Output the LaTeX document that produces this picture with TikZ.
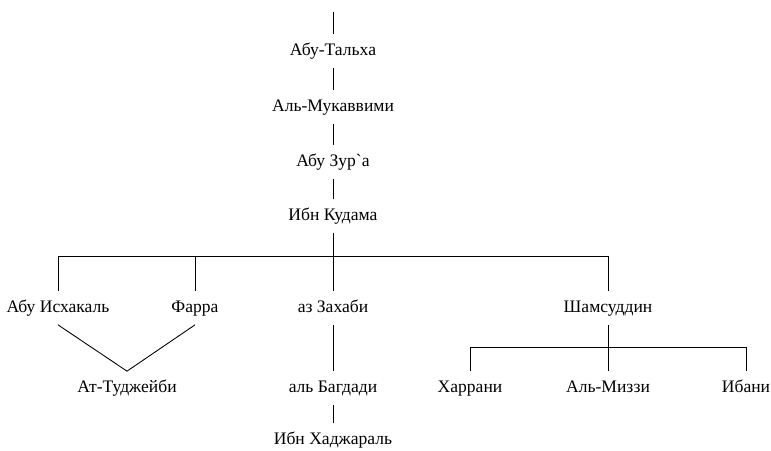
\documentclass[tikz,border=0pt]{standalone}
\usepackage{fontspec}
\setmainfont{Liberation Serif}
\usepackage{tikz}
\tikzset{%
    person/.style={%
        inner sep=0pt, minimum height=0.66cm, text height=1.55ex, text depth=0.45ex,
        font=\fontsize{10}{12}\selectfont
    },
    link/.style={line width=0.5pt}
}

\begin{document}
\begin{tikzpicture}[x=0.02cm,y=-0.02cm]
\useasboundingbox (0,0) rectangle (771,450);
% chain from the top
\coordinate (top) at (333,12);
\node[person] (talha)   at (333,51)  {Абу-Тальха};
\node[person] (mukav)   at (333,107) {Аль-Мукаввими};
\node[person] (zura)    at (333,162) {Абу Зур\textasciigrave а};
\node[person] (kudama)  at (333,216) {Ибн Кудама};
\draw[link] (top) -- (talha.north);
\draw[link] (talha.south) -- (mukav.north);
\draw[link] (mukav.south) -- (zura.north);
\draw[link] (zura.south) -- (kudama.north);
% students of Ibn Kudama
\node[person] (ishak)   at (58,308)  {Абу Исхакаль};
\node[person] (farra)   at (195,308) {Фарра};
\node[person] (zahabi)  at (333,308) {аз Захаби};
\node[person] (shams)   at (608,308) {Шамсуддин};
\coordinate (bar)  at (333,256);
\coordinate (barl) at (58,256);
\coordinate (barm) at (195,256);
\coordinate (barr) at (608,256);
\draw[link] (kudama.south) -- (bar);
\draw[link] (barl) -- (barr);
\draw[link] (barl) -- (ishak.north);
\draw[link] (barm) -- (farra.north);
\draw[link] (bar) -- (zahabi.north);
\draw[link] (barr) -- (shams.north);
% next row
\node[person] (tudj)    at (127,388) {Ат-Туджейби};
\node[person] (bagdad)  at (333,388) {аль Багдади};
\node[person] (hadj)    at (333,440) {Ибн Хаджараль};
\draw[link] (ishak.south) -- (tudj.north) -- (farra.south);
\draw[link] (zahabi.south) -- (bagdad.north);
\draw[link] (bagdad.south) -- (hadj.north);
% students of Shamsuddin
\node[person] (harran)  at (470,388) {Харрани};
\node[person] (mizzi)   at (608,388) {Аль-Миззи};
\node[person] (ibani)   at (746,388) {Ибани};
\coordinate (sbar)  at (608,347);
\coordinate (sbarl) at (470,347);
\coordinate (sbarr) at (746,347);
\draw[link] (shams.south) -- (sbar);
\draw[link] (sbarl) -- (sbarr);
\draw[link] (sbarl) -- (harran.north);
\draw[link] (sbar) -- (mizzi.north);
\draw[link] (sbarr) -- (ibani.north);
\end{tikzpicture}
\end{document}
